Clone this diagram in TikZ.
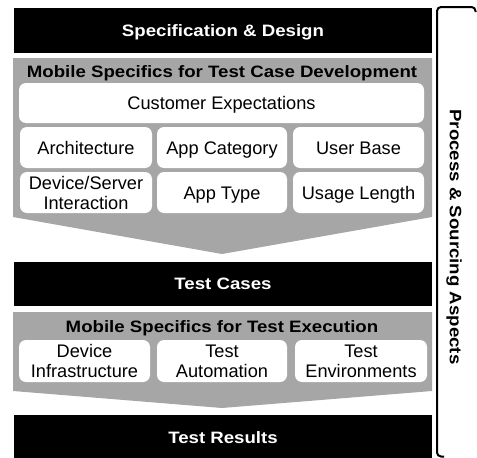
\documentclass[tikz,border=0pt]{standalone}
\usepackage{fontspec}
\setmainfont{Liberation Sans}
\newfontfamily\headfont[FakeStretch=1.13]{Liberation Sans}
\definecolor{panelgray}{RGB}{166,166,166}
\tikzset{
  headbar/.style={fill=black, text=white, inner sep=0pt,
    text height=11.8pt, text depth=0pt,
    font=\headfont\bfseries\fontsize{16.5}{18}\selectfont},
  paneltitle/.style={text=black, inner sep=0pt,
    text height=11.8pt, text depth=0pt,
    font=\headfont\bfseries\fontsize{16.5}{18}\selectfont},
  itembox/.style={fill=white, rounded corners=7pt, inner sep=0pt, align=center,
    font=\fontsize{18.2}{20}\selectfont},
  oneline/.style={text height=13pt, text depth=0pt},
  sidetext/.style={inner sep=0pt, rotate=-90,
    font=\headfont\bfseries\fontsize{16.5}{18}\selectfont},
  bracket/.style={line width=2pt, rounded corners=4pt}
}
\begin{document}
\begin{tikzpicture}[x=1pt, y=-1pt]
\useasboundingbox (0,0) rectangle (477,458);

% stage bars
\node[headbar, minimum width=418pt, minimum height=45pt] (spec) at (223,30.5) {Specification \& Design};
\node[headbar, minimum width=418pt, minimum height=44pt] (cases) at (223,284) {Test Cases};
\node[headbar, minimum width=418pt, minimum height=45pt] (results) at (223,437.5) {Test Results};

% grey arrow panels
\fill[panelgray] (13,58) -- (432,58) -- (432,217) -- (222,254) -- (13,217) -- cycle;
\fill[panelgray] (13,312) -- (432,312) -- (432,391) -- (222,408) -- (13,391) -- cycle;

% test case development panel
\node[paneltitle] (devtitle) at (222,72) {Mobile Specifics for Test Case Development};
\node[itembox, oneline, minimum width=405pt, minimum height=40pt] (cust) at (221.5,103) {Customer Expectations};
\node[itembox, oneline, minimum width=132pt, minimum height=41pt] (arch) at (86,147.5) {Architecture};
\node[itembox, oneline, minimum width=130pt, minimum height=41pt] (appcat) at (222,147.5) {App Category};
\node[itembox, oneline, minimum width=131pt, minimum height=41pt] (userbase) at (358.5,147.5) {User Base};
\node[itembox, minimum width=132pt, minimum height=41pt] (devserv) at (86,192.5) {Device/Server\\Interaction};
\node[itembox, oneline, minimum width=130pt, minimum height=41pt] (apptype) at (222,192.5) {App Type};
\node[itembox, oneline, minimum width=131pt, minimum height=41pt] (usage) at (358.5,192.5) {Usage Length};

% test execution panel
\node[paneltitle] (exectitle) at (222,327) {Mobile Specifics for Test Execution};
\node[itembox, minimum width=131pt, minimum height=42pt] (devinfra) at (84.5,361) {Device\\Infrastructure};
\node[itembox, minimum width=130pt, minimum height=42pt] (testauto) at (222,361) {Test\\Automation};
\node[itembox, minimum width=132pt, minimum height=42pt] (testenv) at (361,361) {Test\\Environments};

% process bracket
\coordinate (brtop) at (475.5,12);
\coordinate (brbot) at (444,456.5);
\draw[bracket] (brtop) -- (475.5,7) -- (437,7) -- (437,456.5) -- (brbot);
\node[sidetext] (proc) at (454,237) {Process \& Sourcing Aspects};
\end{tikzpicture}
\end{document}
